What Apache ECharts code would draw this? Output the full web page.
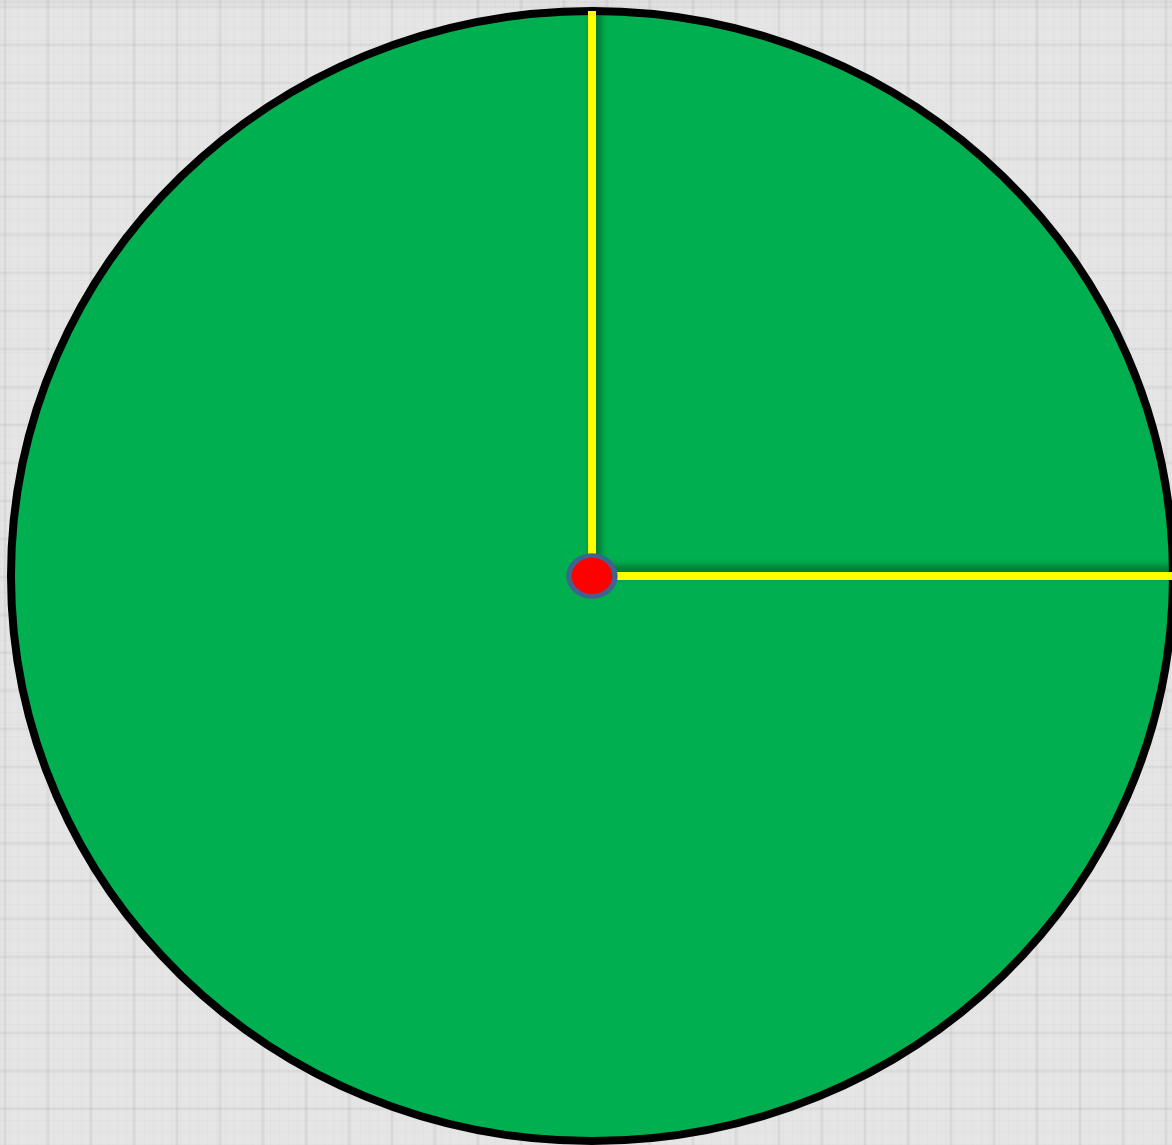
<!DOCTYPE html>
<html>
<head>
<meta charset="UTF-8">
<title>wheel</title>
<script src="https://cdn.jsdelivr.net/npm/echarts@6/dist/echarts.min.js"></script>
<style>
html,body{margin:0;padding:0;}
#main{
	width:1172px;height:1145px;
	background-color:#e5e5e5;
	background-image:
		repeating-linear-gradient(90deg, transparent 0, rgba(0,0,0,0.05) 1px 3px, transparent 4px 43px),
		repeating-linear-gradient(0deg, transparent 0, rgba(0,0,0,0.045) 1px 3px, transparent 4px 38px),
		repeating-linear-gradient(90deg, rgba(0,0,0,0.018) 0 1px, transparent 1px 9px),
		repeating-linear-gradient(0deg, rgba(0,0,0,0.015) 0 1px, transparent 1px 12px);
	background-position:3px 0, 0 4px, 0 0, 0 0;
}
</style>
</head>
<body>
<div id="main"></div>
<script type="text/javascript">
// 数据: 圆盘(中心x, 中心y, 半径x, 半径y), 两根辐条, 中心点
var rim = [[0, 0, 1, 1]];
var topSpoke = [[0, 0], [0, 1]];
var rightSpoke = [[0, 0], [1, 0]];
var hub = [[0, 0]];

var myChart = echarts.init(document.getElementById('main'));

option = {
	backgroundColor: 'transparent',
	animation: false,
	grid: { left: 0, right: 0, top: 0, bottom: 0 },
	// 坐标轴隐藏, 0 对应圆心 (592, 576)
	xAxis: { type: 'value', min: -592 / 581, max: 580 / 581, show: false },
	yAxis: { type: 'value', min: -569 / 565, max: 576 / 565, show: false },
	series: [
		{
			type: 'custom',
			clip: false,
			z: 1,
			data: rim,
			renderItem: function (params, api) {
				var c = api.coord([api.value(0), api.value(1)]);
				var e = api.coord([api.value(0) + api.value(2), api.value(1) + api.value(3)]);
				return {
					type: 'ellipse',
					shape: { cx: c[0], cy: c[1], rx: e[0] - c[0], ry: c[1] - e[1] },
					style: { fill: '#00B050', stroke: '#000000', lineWidth: 8 }
				};
			}
		},
		{
			type: 'line',
			z: 2,
			data: topSpoke,
			symbol: 'none',
			lineStyle: {
				color: '#FFFF00', width: 8, cap: 'butt',
				shadowColor: 'rgba(0,0,0,0.45)', shadowBlur: 8, shadowOffsetX: 4, shadowOffsetY: 0
			}
		},
		{
			type: 'line',
			z: 2,
			data: rightSpoke,
			symbol: 'none',
			lineStyle: {
				color: '#FFFF00', width: 8, cap: 'butt',
				shadowColor: 'rgba(0,0,0,0.45)', shadowBlur: 8, shadowOffsetX: 0, shadowOffsetY: -5
			}
		},
		{
			type: 'scatter',
			z: 3,
			data: hub,
			symbol: 'circle',
			symbolSize: [46, 41],
			itemStyle: { color: '#FF0000', borderColor: '#41628C', borderWidth: 5, opacity: 1 }
		}
	]
};

myChart.setOption(option);
</script>
</body>
</html>
